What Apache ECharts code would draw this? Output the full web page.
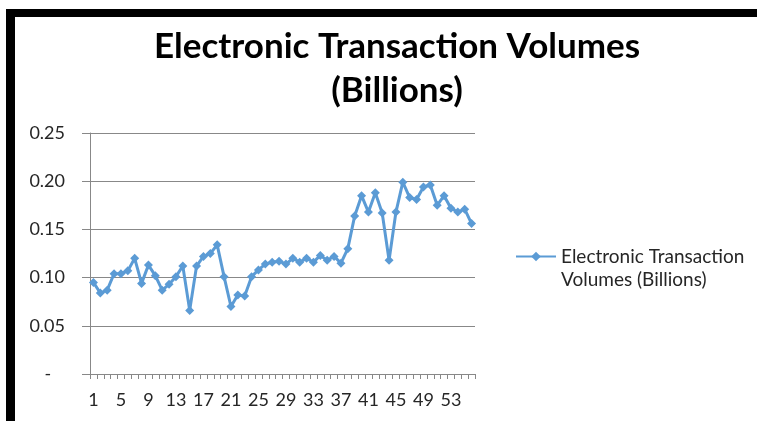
<!DOCTYPE html>
<html>
<head>
<meta charset="utf-8">
<script src="https://cdn.jsdelivr.net/npm/echarts@6/dist/echarts.min.js"></script>
<style>
  html, body { margin: 0; padding: 0; background: #ffffff; }
  #chart { width: 757px; height: 421px; }
</style>
</head>
<body>
<div id="chart"></div>
<script>
  // weeks 1..56
  var categories = [];
  for (var i = 1; i <= 56; i++) categories.push(String(i));

  var volumes = [
    0.095, 0.084, 0.087, 0.104, 0.104, 0.107, 0.120, 0.094, 0.113, 0.102,
    0.087, 0.093, 0.101, 0.112, 0.066, 0.112, 0.122, 0.125, 0.134, 0.101,
    0.070, 0.082, 0.081, 0.101, 0.108, 0.114, 0.116, 0.117, 0.114, 0.120,
    0.116, 0.120, 0.116, 0.123, 0.118, 0.122, 0.115, 0.130, 0.164, 0.185,
    0.168, 0.188, 0.167, 0.118, 0.168, 0.199, 0.183, 0.181, 0.194, 0.196,
    0.175, 0.185, 0.172, 0.168, 0.171, 0.156
  ];

  var seriesName = 'Electronic Transaction Volumes (Billions)';
  var titleText = 'Electronic Transaction Volumes\n(Billions)';
  var legendText = '\nElectronic Transaction\nVolumes (Billions)';

  var chart = echarts.init(document.getElementById('chart'));
  chart.setOption({
    backgroundColor: '#ffffff',
    animation: false,
    title: {
      text: titleText,
      left: 392,
      textAlign: 'center',
      top: 20,
      textStyle: {
        fontFamily: 'Lato',
        fontWeight: 'bold',
        fontSize: 35,
        lineHeight: 44,
        color: '#000000'
      }
    },
    legend: {
      left: 515,
      top: 222,
      padding: 0,
      itemWidth: 40,
      itemHeight: 12,
      formatter: function () { return legendText; },
      textStyle: {
        fontFamily: 'Lato',
        fontSize: 19,
        lineHeight: 23,
        color: '#262626'
      }
    },
    grid: { left: 90, right: 282, top: 133, bottom: 47 },
    xAxis: {
      type: 'category',
      data: categories,
      boundaryGap: true,
      axisLine: { lineStyle: { color: '#888888', width: 1 } },
      axisTick: { show: true, interval: 0, length: 5, lineStyle: { color: '#888888' } },
      axisLabel: {
        interval: 3,
        margin: 17,
        fontFamily: 'Lato',
        fontSize: 18,
        color: '#262626'
      }
    },
    yAxis: {
      type: 'value',
      min: 0,
      max: 0.25,
      interval: 0.05,
      axisLine: { show: true, lineStyle: { color: '#888888', width: 1 } },
      axisTick: { show: true, length: 8, lineStyle: { color: '#888888' } },
      splitLine: { show: true, lineStyle: { color: '#888888', width: 1 } },
      axisLabel: {
        margin: 25,
        fontFamily: 'Lato',
        fontSize: 18,
        color: '#262626',
        formatter: function (v) { return v === 0 ? '-   ' : v.toFixed(2); }
      }
    },
    series: [{
      name: seriesName,
      type: 'line',
      data: volumes,
      symbol: 'diamond',
      symbolSize: 9,
      showAllSymbol: true,
      lineStyle: { color: '#5b9bd5', width: 3 },
      itemStyle: { color: '#5b9bd5' }
    }],
    graphic: [
      { type: 'rect', shape: { x: 6, y: 9, width: 751, height: 8 }, style: { fill: '#000000' } },
      { type: 'rect', shape: { x: 6, y: 9, width: 9, height: 412 }, style: { fill: '#000000' } }
    ]
  });
</script>
</body>
</html>
